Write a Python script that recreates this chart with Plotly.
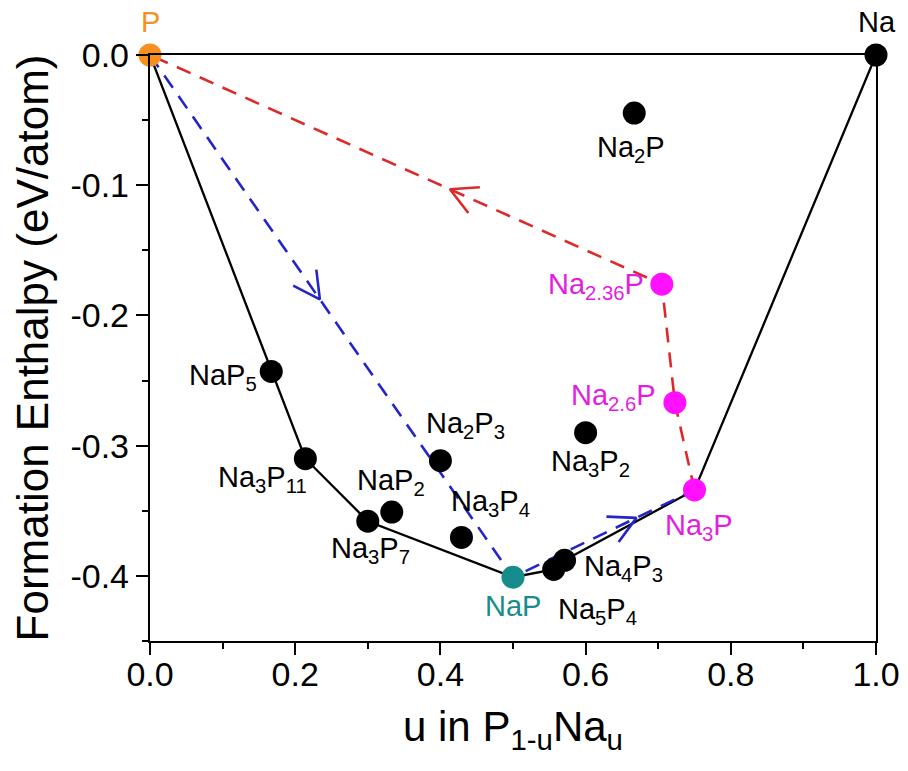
import math
import plotly.graph_objects as go

# ---------------- data ----------------
compound_names = ["P", "NaP5", "Na3P11", "Na3P7", "NaP2", "Na2P3", "Na3P4", "NaP",
                  "Na5P4", "Na4P3", "Na3P2", "Na2P", "Na3P", "Na2.6P", "Na2.36P", "Na"]
compound_u = [0.0, 0.167, 0.214, 0.300, 0.333, 0.400, 0.429, 0.500,
              0.556, 0.571, 0.600, 0.667, 0.750, 0.723, 0.705, 1.0]
compound_h = [0.0, -0.243, -0.310, -0.358, -0.351, -0.3115, -0.3705, -0.401,
              -0.395, -0.388, -0.290, -0.0446, -0.334, -0.267, -0.176, 0.0]
compound_labels = ["P", "NaP<sub>5</sub>", "Na<sub>3</sub>P<sub>11</sub>", "Na<sub>3</sub>P<sub>7</sub>",
                   "NaP<sub>2</sub>", "Na<sub>2</sub>P<sub>3</sub>", "Na<sub>3</sub>P<sub>4</sub>", "NaP",
                   "Na<sub>5</sub>P<sub>4</sub>", "Na<sub>4</sub>P<sub>3</sub>", "Na<sub>3</sub>P<sub>2</sub>",
                   "Na<sub>2</sub>P", "Na<sub>3</sub>P", "Na<sub>2.6</sub>P", "Na<sub>2.36</sub>P", "Na"]
compound_group = ["P", "stable", "stable", "stable", "other", "other", "other", "NaP",
                  "stable", "stable", "other", "other", "sim", "sim", "sim", "stable"]

hull_path = ["P", "NaP5", "Na3P11", "Na3P7", "NaP", "Na5P4", "Na4P3", "Na3P", "Na"]
red_path = ["Na3P", "Na2.6P", "Na2.36P", "P"]
blue_path = ["P", "NaP", "Na3P"]
# arrows: (segment start, segment end, fraction along segment)
red_arrows = [("Na2.36P", "P", 0.414)]
blue_arrows = [("P", "NaP", 0.468), ("NaP", "Na3P", 0.68)]

x_tickvals = [0.0, 0.2, 0.4, 0.6, 0.8, 1.0]
x_ticktext = ["0.0", "0.2", "0.4", "0.6", "0.8", "1.0"]
y_tickvals = [0.0, -0.1, -0.2, -0.3, -0.4]
y_ticktext = ["0.0", "-0.1", "-0.2", "-0.3", "-0.4"]

# ---------------- style ----------------
W, H = 900, 763          # page body adds 8px margin
ML, MR, MT, MB = 142, 32, 47, 130
XR = [0.0, 1.0]
YR = [-0.45, 0.0]
FONT = "Arial, Liberation Sans, Helvetica, sans-serif"
RED = "#DC2A2A"
BLUE = "#2424C8"
ORANGE = "#F7901E"
MAGENTA = "#FF10FF"
TEAL = "#178C8C"
group_color = {"P": ORANGE, "stable": "black", "other": "black", "NaP": TEAL, "sim": MAGENTA}
label_color = {"P": ORANGE, "stable": "black", "other": "black", "NaP": TEAL, "sim": "#E21DE2"}

# label placement: (xanchor, xshift, yshift)
label_pos = {
    "P": ("center", 0, 33),
    "Na": ("center", 1, 33),
    "Na2P": ("center", -3, -36),
    "Na2.36P": ("right", -16, -2),
    "Na2.6P": ("right", -17, 6),
    "Na3P": ("center", 4, -37),
    "NaP": ("center", 0, -29),
    "Na5P4": ("left", 2, -42),
    "Na4P3": ("left", 17, -8),
    "Na3P2": ("center", 5, -30),
    "Na3P4": ("left", -12, 34),
    "Na2P3": ("left", -16, 36),
    "NaP2": ("left", -37, 30),
    "Na3P7": ("left", -39, -29),
    "Na3P11": ("right", 4, -20),
    "NaP5": ("right", -12, -6),
}

pts = {n: (u, h) for n, u, h in zip(compound_names, compound_u, compound_h)}

plot_w = W - ML - MR
plot_h = H - MT - MB
sx = plot_w / (XR[1] - XR[0])
sy = plot_h / (YR[1] - YR[0])


def chevron(a, b, frac, L=30.0, ang=28.0):
    x0, y0 = pts[a]
    x1, y1 = pts[b]
    tx = x0 + frac * (x1 - x0)
    ty = y0 + frac * (y1 - y0)
    dx, dy = (x1 - x0) * sx, (y1 - y0) * sy
    n = math.hypot(dx, dy)
    bx, by = -dx / n, -dy / n
    xs, ys = [], []
    for s in (1, -1):
        t = math.radians(ang * s)
        wx = bx * math.cos(t) - by * math.sin(t)
        wy = bx * math.sin(t) + by * math.cos(t)
        xs.append(tx + L * wx / sx)
        ys.append(ty + L * wy / sy)
    return [xs[0], tx, xs[1], None], [ys[0], ty, ys[1], None]


fig = go.Figure()

# hull
fig.add_trace(go.Scatter(x=[pts[n][0] for n in hull_path], y=[pts[n][1] for n in hull_path],
                         mode="lines", line=dict(color="black", width=2.3),
                         cliponaxis=False, showlegend=False, hoverinfo="skip"))
# red path
fig.add_trace(go.Scatter(x=[pts[n][0] for n in red_path], y=[pts[n][1] for n in red_path],
                         mode="lines", line=dict(color=RED, width=2.6, dash="15px,10px"),
                         cliponaxis=False, showlegend=False, hoverinfo="skip"))
# blue path
fig.add_trace(go.Scatter(x=[pts[n][0] for n in blue_path], y=[pts[n][1] for n in blue_path],
                         mode="lines", line=dict(color=BLUE, width=2.6, dash="15px,10px"),
                         cliponaxis=False, showlegend=False, hoverinfo="skip"))
# arrows
for arrows, col in ((red_arrows, RED), (blue_arrows, BLUE)):
    ax, ay = [], []
    for a, b, f in arrows:
        cx, cy = chevron(a, b, f)
        ax += cx
        ay += cy
    fig.add_trace(go.Scatter(x=ax, y=ay, mode="lines", line=dict(color=col, width=2.6),
                             cliponaxis=False, showlegend=False, hoverinfo="skip"))

# markers
fig.add_trace(go.Scatter(x=compound_u, y=compound_h, mode="markers",
                         marker=dict(size=23, color=[group_color[g] for g in compound_group],
                                     line=dict(width=0)),
                         cliponaxis=False, showlegend=False, hoverinfo="skip"))

# labels
for n, lab, g in zip(compound_names, compound_labels, compound_group):
    xa, xs_, ys_ = label_pos[n]
    fig.add_annotation(x=pts[n][0], y=pts[n][1], text=lab, showarrow=False,
                       xanchor=xa, yanchor="middle", xshift=xs_, yshift=ys_,
                       font=dict(family=FONT, size=29, color=label_color[g]))

axis_common = dict(showline=True, linecolor="black", linewidth=2.4, mirror=True,
                   showgrid=False, zeroline=False, ticks="outside", ticklen=12,
                   tickwidth=2.4, tickcolor="black",
                   tickfont=dict(family=FONT, size=34, color="black"))

fig.update_xaxes(range=XR, tickmode="array", tickvals=x_tickvals, ticktext=x_ticktext,
                 ticklabelstandoff=-10,
                 minor=dict(tickmode="linear", tick0=0, dtick=0.1, ticks="outside",
                            ticklen=6, tickwidth=2.4, tickcolor="black"),
                 title=dict(text="u in P<sub>1-u</sub>Na<sub>u</sub>",
                            font=dict(family=FONT, size=42, color="black"), standoff=20),
                 **axis_common)
fig.update_yaxes(range=YR, tickmode="array", tickvals=y_tickvals, ticktext=y_ticktext,
                 minor=dict(tickmode="linear", tick0=0, dtick=0.05, ticks="outside",
                            ticklen=6, tickwidth=2.4, tickcolor="black"),
                 title=dict(text="Formation Enthalpy (eV/atom)",
                            font=dict(family=FONT, size=44, color="black"), standoff=10),
                 **axis_common)

fig.update_layout(width=W, height=H, margin=dict(l=ML, r=MR, t=MT, b=MB, autoexpand=False),
                  paper_bgcolor="white", plot_bgcolor="white",
                  font=dict(family=FONT, color="black"))

fig.write_html("out.html")
